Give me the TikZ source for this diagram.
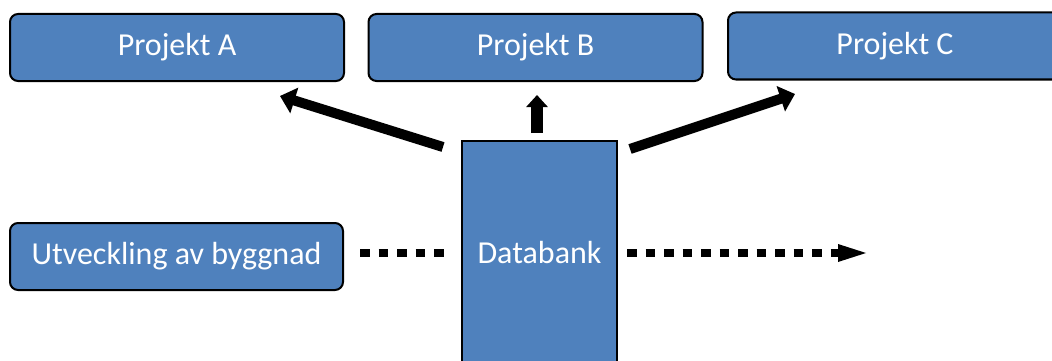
\documentclass[tikz,border=0pt]{standalone}
\usepackage{fontspec}
\setmainfont{Carlito}
\usetikzlibrary{arrows.meta,calc}
\definecolor{boxblue}{HTML}{4F81BD}
\begin{document}
\begin{tikzpicture}[x=1pt,y=1pt,
  box/.style={draw=black, line width=2pt, fill=boxblue, rounded corners=8pt,
    text=white, font=\fontsize{32}{38}\selectfont, inner sep=0pt},
  projbox/.style={box, minimum width=334pt, minimum height=67pt},
  thickarrow/.style={line width=10pt, -{Triangle[length=15pt,width=26pt]}},
  shortarrow/.style={line width=12pt, -{Triangle[length=12pt,width=21pt]}},
  dotline/.style={line width=8.5pt, dash pattern=on 9.5pt off 9pt}]
\useasboundingbox (0,0) rectangle (1052,-361);

% project boxes along the top
\node[projbox] (A) at (177,-47.5) {Projekt A};
\node[projbox] (B) at (535.5,-47.5) {Projekt B};
\node[projbox] (C) at (895,-46) {Projekt C};

% source box and the data bank column
\node[box, minimum width=333pt, minimum height=67pt] (U) at (176.5,-256.5) {Utveckling av byggnad};
\node[box, rounded corners=0pt, minimum width=155pt, minimum height=224pt] (D) at (539.5,-253) {Databank};

% arrow anchors
\coordinate (dl) at (443,-147);
\coordinate (al) at (280,-96);
\coordinate (db) at (537,-133);
\coordinate (ab) at (537,-95);
\coordinate (dr) at (630,-149);
\coordinate (ar) at (795,-94);
\coordinate (ul) at (360,-253);
\coordinate (dlin) at (448,-253);
\coordinate (dout) at (627,-253);
\coordinate (outend) at (866,-253);

% flows from the data bank to the projects
\draw[thickarrow] (dl) -- (al);
\draw[shortarrow] (db) -- (ab);
\draw[thickarrow] (dr) -- (ar);

% dotted flows through the data bank
\draw[dotline] (ul) -- (dlin);
\draw[dotline] (dout) -- ($(outend)+(-28,0)$);
\fill ($(outend)+(-28,9)$) -- (outend) -- ($(outend)+(-28,-9)$) -- cycle;
\end{tikzpicture}
\end{document}
